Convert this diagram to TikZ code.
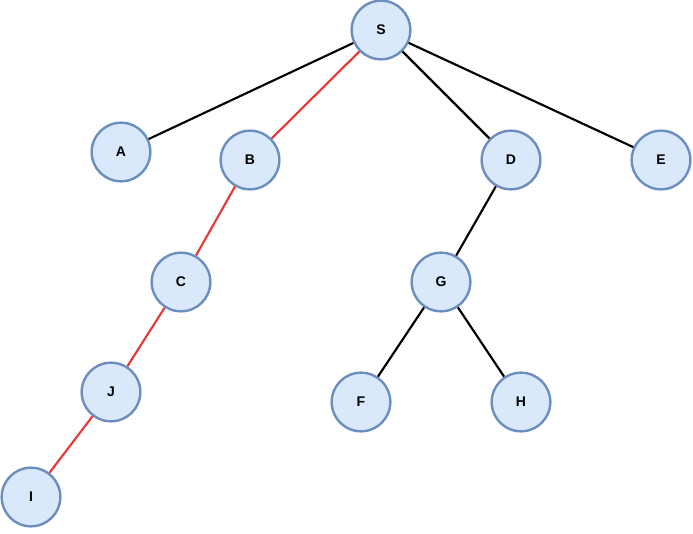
\documentclass[tikz,border=0pt]{standalone}
\usepackage{fontspec}
\setmainfont{Liberation Sans}
\definecolor{nodefill}{HTML}{DAE8FC}
\definecolor{nodeline}{HTML}{6C8EBF}
\definecolor{pathred}{HTML}{E53935}

\begin{document}
\begin{tikzpicture}[x=0.75pt,y=-0.75pt,
    vertex/.style={circle,draw=nodeline,fill=nodefill,line width=1.8pt,
      minimum size=44pt,inner sep=0pt,font=\bfseries\fontsize{10.5}{12}\selectfont},
    edge/.style={line width=1.6pt},
    redge/.style={line width=1.6pt,pathred}]
  \useasboundingbox (0,0) rectangle (693,533);
  % nodes
  \node[vertex] (S) at (381,30) {S};
  \node[vertex] (A) at (121,152) {A};
  \node[vertex] (B) at (250,160) {B};
  \node[vertex] (D) at (511,160) {D};
  \node[vertex] (E) at (661,160) {E};
  \node[vertex] (C) at (181,282) {C};
  \node[vertex] (G) at (441,282) {G};
  \node[vertex] (J) at (111,392) {J};
  \node[vertex] (F) at (361,402) {F};
  \node[vertex] (H) at (521,402) {H};
  \node[vertex] (I) at (31,497) {I};
  % edges
  \draw[edge] (S) -- (A);
  \draw[edge] (S) -- (D);
  \draw[edge] (S) -- (E);
  \draw[edge] (D) -- (G);
  \draw[edge] (G) -- (F);
  \draw[edge] (G) -- (H);
  \draw[redge] (S) -- (B);
  \draw[redge] (B) -- (C);
  \draw[redge] (C) -- (J);
  \draw[redge] (J) -- (I);
\end{tikzpicture}
\end{document}
